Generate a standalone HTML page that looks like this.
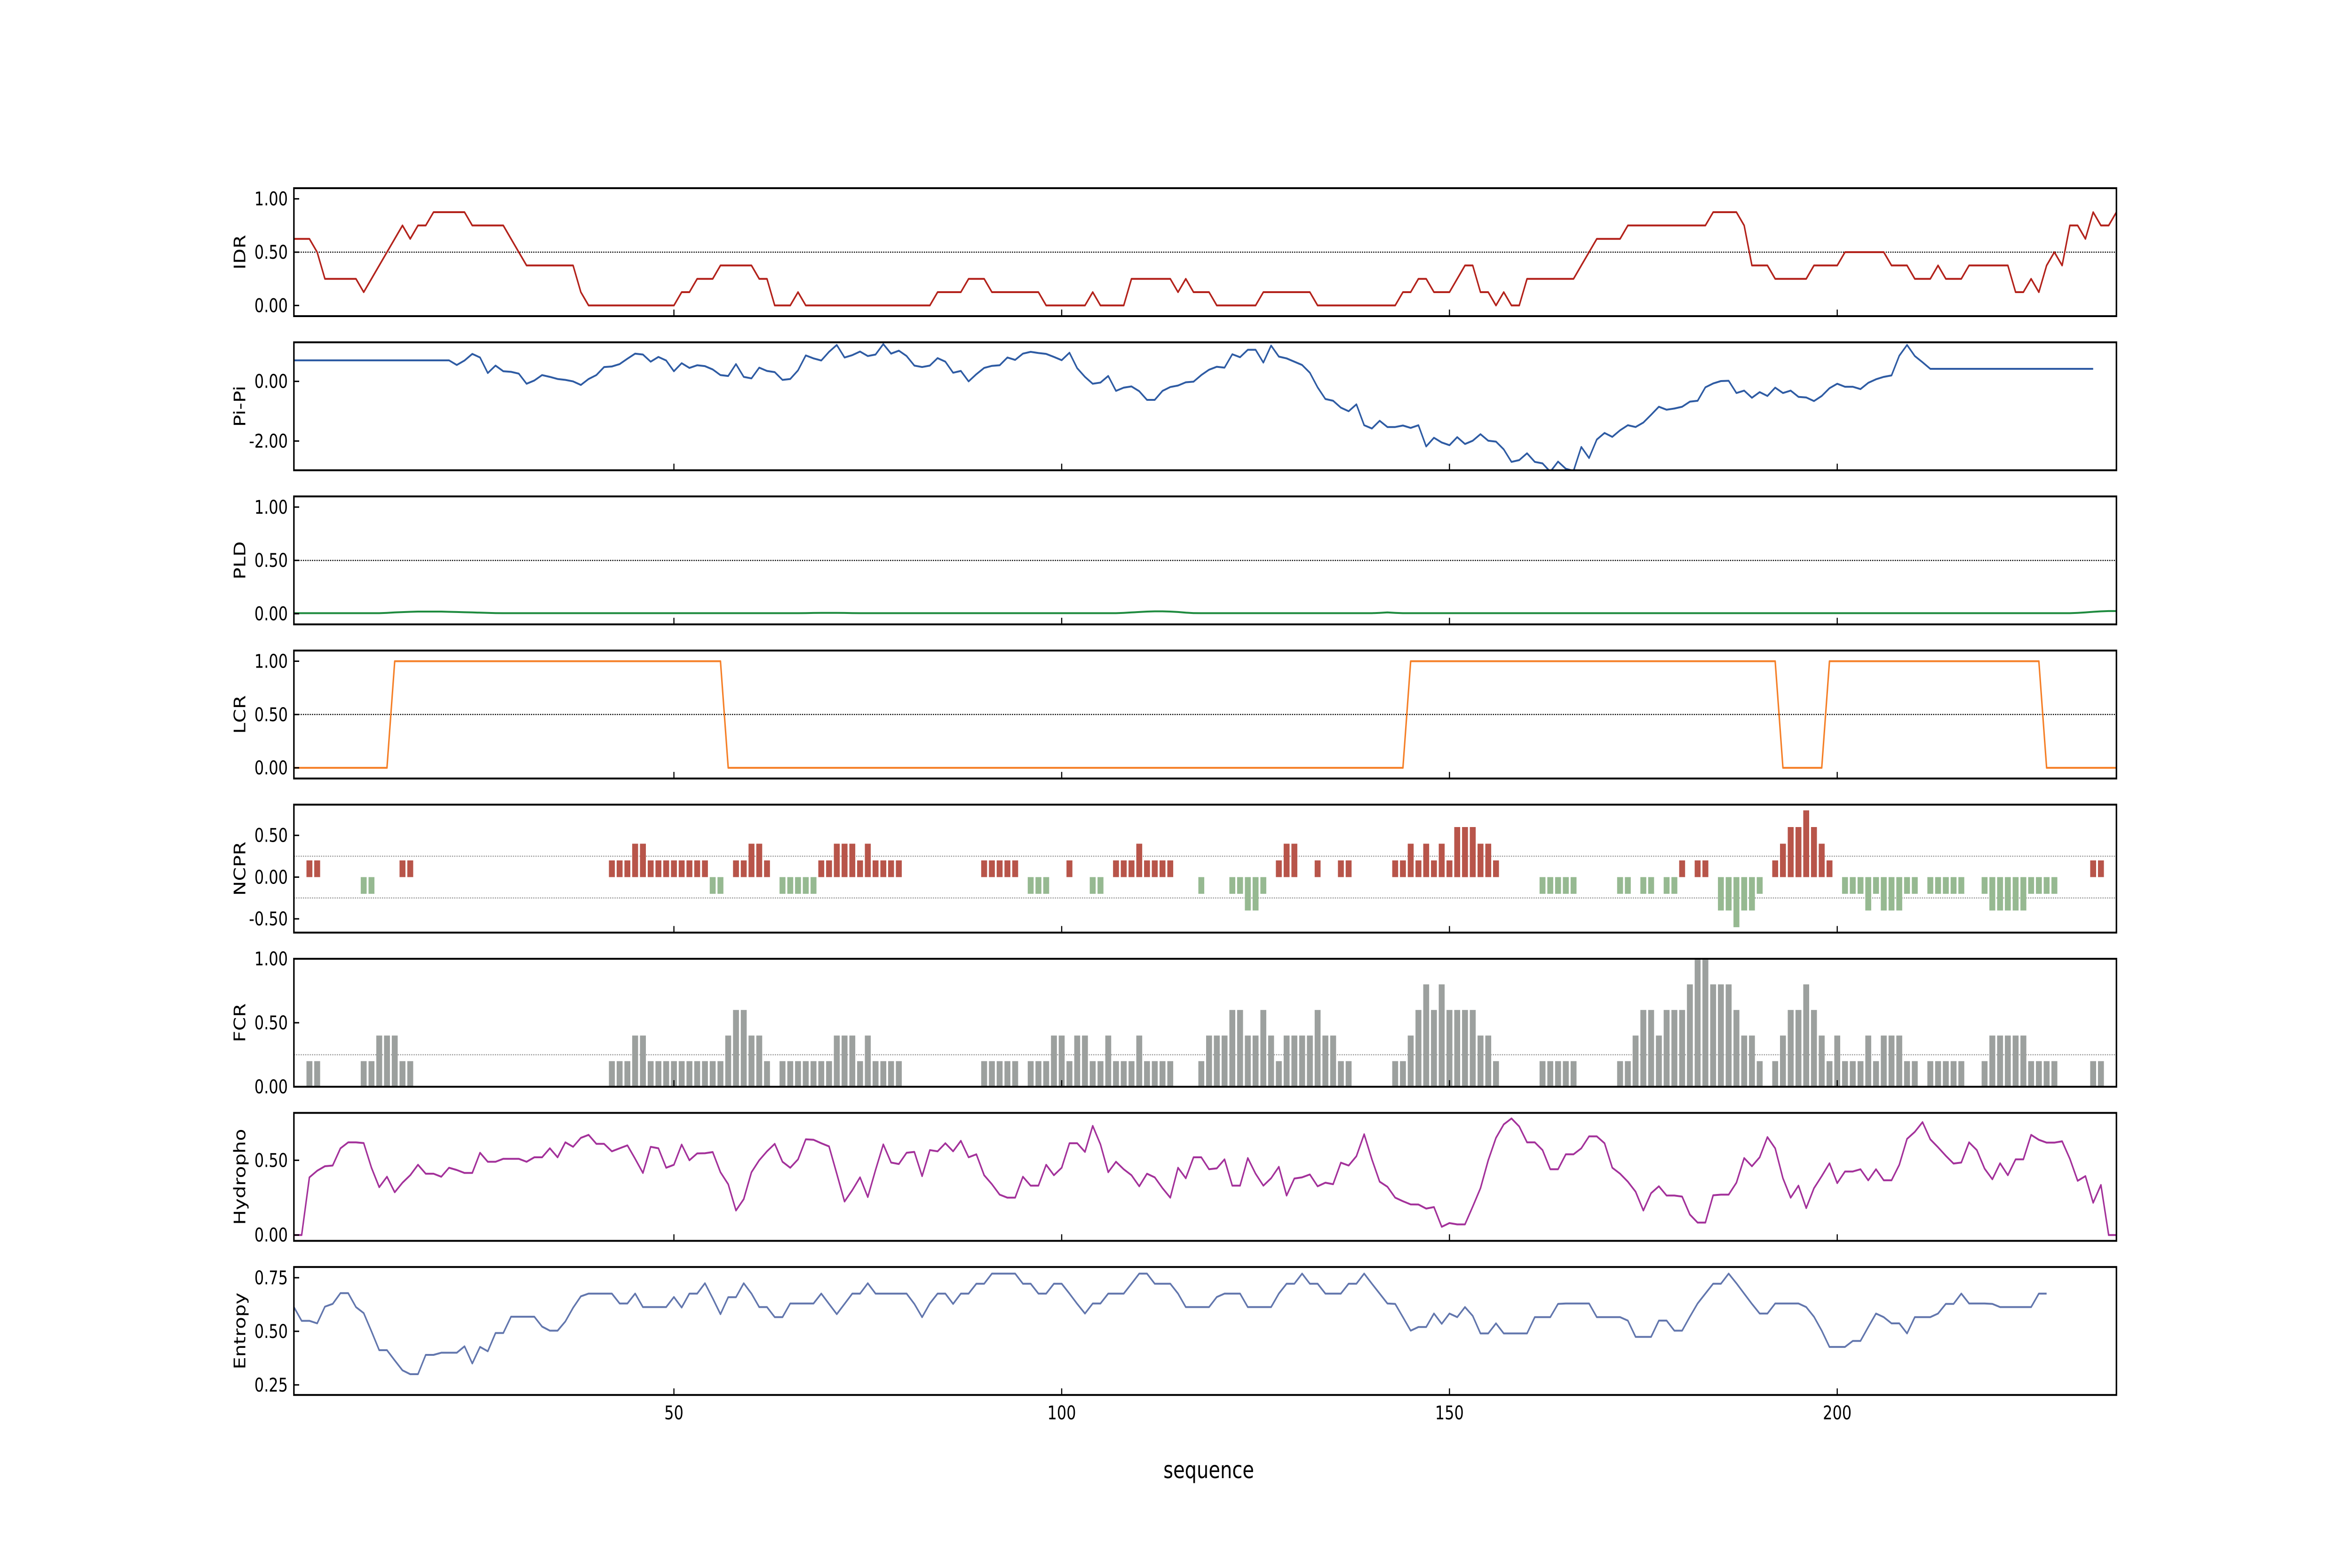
<!DOCTYPE html>
<html><head><meta charset="utf-8"><title>Sequence feature tracks</title>
<style>
html,body{margin:0;padding:0;background:#fff;overflow:hidden;width:100%;height:100%;}
svg{display:block;width:100vw;height:100vh;font-family:"DejaVu Sans","Liberation Sans",sans-serif;}
</style></head>
<body>
<svg id="chart" xmlns="http://www.w3.org/2000/svg" viewBox="0 0 6250 3333" preserveAspectRatio="none">
<rect x="0" y="0" width="6250" height="3333" fill="#ffffff"/>
</svg>
<script>
// ---------- data ----------
const xTicks = [50, 100, 150, 200];
const xTickLabels = ["50", "100", "150", "200"];

const idrValues = [0.625,0.625,0.625,0.5,0.25,0.25,0.25,0.25,0.25,0.125,
0.25,0.375,0.5,0.625,0.75,0.625,0.75,0.75,0.875,0.875,
0.875,0.875,0.875,0.75,0.75,0.75,0.75,0.75,0.625,0.5,
0.375,0.375,0.375,0.375,0.375,0.375,0.375,0.125,0,0,
0,0,0,0,0,0,0,0,0,0,
0.125,0.125,0.25,0.25,0.25,0.375,0.375,0.375,0.375,0.375,
0.25,0.25,0,0,0,0.125,0,0,0,0,
0,0,0,0,0,0,0,0,0,0,
0,0,0,0.125,0.125,0.125,0.125,0.25,0.25,0.25,
0.125,0.125,0.125,0.125,0.125,0.125,0.125,0,0,0,
0,0,0,0.125,0,0,0,0,0.25,0.25,
0.25,0.25,0.25,0.25,0.125,0.25,0.125,0.125,0.125,0,
0,0,0,0,0,0.125,0.125,0.125,0.125,0.125,
0.125,0.125,0,0,0,0,0,0,0,0,
0,0,0,0.125,0.125,0.25,0.25,0.125,0.125,0.125,
0.25,0.375,0.375,0.125,0.125,0,0.125,0,0,0.25,
0.25,0.25,0.25,0.25,0.25,0.25,0.375,0.5,0.625,0.625,
0.625,0.625,0.75,0.75,0.75,0.75,0.75,0.75,0.75,0.75,
0.75,0.75,0.75,0.875,0.875,0.875,0.875,0.75,0.375,0.375,
0.375,0.25,0.25,0.25,0.25,0.25,0.375,0.375,0.375,0.375,
0.5,0.5,0.5,0.5,0.5,0.5,0.375,0.375,0.375,0.25,
0.25,0.25,0.375,0.25,0.25,0.25,0.375,0.375,0.375,0.375,
0.375,0.375,0.125,0.125,0.25,0.125,0.375,0.5,0.375,0.75,
0.75,0.625,0.875,0.75,0.75,0.875];

const piPiValues = [0.705,0.705,0.705,0.705,0.705,0.705,0.705,0.705,0.705,0.705,
0.705,0.705,0.705,0.705,0.705,0.705,0.705,0.705,0.705,0.705,
0.705,0.55,0.7,0.92,0.8,0.28,0.53,0.34,0.32,0.26,
-0.08,0.03,0.21,0.15,0.08,0.05,0,-0.12,0.08,0.21,
0.48,0.5,0.58,0.76,0.93,0.9,0.66,0.82,0.7,0.34,
0.61,0.45,0.54,0.51,0.4,0.21,0.18,0.58,0.15,0.1,
0.46,0.35,0.31,0.05,0.08,0.37,0.87,0.77,0.7,0.99,
1.22,0.8,0.88,1.0,0.85,0.9,1.25,0.93,1.03,0.85,
0.53,0.48,0.53,0.78,0.66,0.29,0.35,0,0.24,0.45,
0.52,0.54,0.8,0.72,0.93,0.99,0.95,0.92,0.82,0.71,
0.96,0.44,0.15,-0.08,-0.04,0.18,-0.32,-0.21,-0.17,-0.33,
-0.62,-0.62,-0.32,-0.19,-0.14,-0.03,-0.01,0.21,0.39,0.49,
0.46,0.91,0.81,1.06,1.06,0.63,1.2,0.83,0.77,0.66,
0.55,0.29,-0.2,-0.59,-0.65,-0.88,-1.0,-0.77,-1.47,-1.58,
-1.32,-1.53,-1.53,-1.48,-1.56,-1.47,-2.18,-1.89,-2.05,-2.14,
-1.87,-2.1,-1.99,-1.77,-1.99,-2.02,-2.28,-2.7,-2.64,-2.41,
-2.7,-2.75,-3.03,-2.69,-2.93,-3.0,-2.2,-2.57,-1.95,-1.73,
-1.86,-1.64,-1.47,-1.53,-1.38,-1.12,-0.85,-0.95,-0.91,-0.85,
-0.68,-0.65,-0.2,-0.07,0.01,0.02,-0.39,-0.31,-0.55,-0.36,
-0.49,-0.21,-0.39,-0.31,-0.52,-0.54,-0.66,-0.49,-0.23,-0.08,
-0.18,-0.18,-0.26,-0.05,0.07,0.15,0.2,0.86,1.22,0.85,
0.64,0.42,0.42,0.42,0.42,0.42,0.42,0.42,0.42,0.42,
0.42,0.42,0.42,0.42,0.42,0.42,0.42,0.42,0.42,0.42,
0.42,0.42,0.42];

const pldValues = [0.005,0.005,0.005,0.005,0.005,0.005,0.005,0.005,0.005,0.005,
0.005,0.005,0.008,0.012,0.015,0.018,0.02,0.02,0.02,0.02,
0.018,0.016,0.014,0.012,0.01,0.008,0.006,0.005,0.005,0.005,
0.005,0.005,0.005,0.005,0.005,0.005,0.005,0.005,0.005,0.005,
0.005,0.005,0.005,0.005,0.005,0.005,0.005,0.005,0.005,0.005,
0.005,0.005,0.005,0.005,0.005,0.005,0.005,0.005,0.005,0.005,
0.005,0.005,0.005,0.005,0.005,0.005,0.006,0.007,0.008,0.008,
0.008,0.007,0.006,0.005,0.005,0.005,0.005,0.005,0.005,0.005,
0.005,0.005,0.005,0.005,0.005,0.005,0.005,0.005,0.005,0.005,
0.005,0.005,0.005,0.005,0.005,0.005,0.005,0.005,0.005,0.005,
0.005,0.005,0.005,0.005,0.005,0.005,0.005,0.008,0.012,0.016,
0.02,0.022,0.022,0.02,0.016,0.01,0.006,0.005,0.005,0.005,
0.005,0.005,0.005,0.005,0.005,0.005,0.005,0.005,0.005,0.005,
0.005,0.005,0.005,0.005,0.005,0.005,0.005,0.005,0.005,0.005,
0.008,0.012,0.008,0.005,0.005,0.005,0.005,0.005,0.005,0.005,
0.005,0.005,0.005,0.005,0.005,0.005,0.005,0.005,0.005,0.005,
0.005,0.005,0.005,0.005,0.005,0.005,0.005,0.005,0.005,0.005,
0.005,0.005,0.005,0.005,0.005,0.005,0.005,0.005,0.005,0.005,
0.005,0.005,0.005,0.005,0.005,0.005,0.005,0.005,0.005,0.005,
0.005,0.005,0.005,0.005,0.005,0.005,0.005,0.005,0.005,0.005,
0.005,0.005,0.005,0.005,0.005,0.005,0.005,0.005,0.005,0.005,
0.005,0.005,0.005,0.005,0.005,0.005,0.005,0.005,0.005,0.005,
0.005,0.005,0.005,0.005,0.005,0.005,0.005,0.005,0.005,0.005,
0.008,0.012,0.018,0.022,0.025,0.025];

const lcrValues = [0,0,0,0,0,0,0,0,0,0,0,0,0,1,1,1,1,1,1,1,
1,1,1,1,1,1,1,1,1,1,1,1,1,1,1,1,1,1,1,1,
1,1,1,1,1,1,1,1,1,1,1,1,1,1,1,1,0,0,0,0,
0,0,0,0,0,0,0,0,0,0,0,0,0,0,0,0,0,0,0,0,
0,0,0,0,0,0,0,0,0,0,0,0,0,0,0,0,0,0,0,0,
0,0,0,0,0,0,0,0,0,0,0,0,0,0,0,0,0,0,0,0,
0,0,0,0,0,0,0,0,0,0,0,0,0,0,0,0,0,0,0,0,
0,0,0,0,1,1,1,1,1,1,1,1,1,1,1,1,1,1,1,1,
1,1,1,1,1,1,1,1,1,1,1,1,1,1,1,1,1,1,1,1,
1,1,1,1,1,1,1,1,1,1,1,1,0,0,0,0,0,0,1,1,
1,1,1,1,1,1,1,1,1,1,1,1,1,1,1,1,1,1,1,1,
1,1,1,1,1,1,0,0,0,0,0,0,0,0,0,0];

const ncprPositions = [3,4,10,11,15,16,
42,43,44,45,46,47,48,49,50,51,52,53,54,55,56,58,59,60,61,62,64,65,66,67,68,69,70,71,72,73,74,75,76,77,78,79,
90,91,92,93,94,96,97,98,101,104,105,107,108,109,110,111,112,113,114,118,122,123,124,125,126,128,129,130,133,136,137,
143,144,145,146,147,148,149,150,151,152,153,154,155,156,
162,163,164,165,166,172,173,175,176,178,179,180,182,183,185,186,187,188,189,190,192,193,194,195,196,197,198,199,
201,202,203,204,205,206,207,208,209,210,212,213,214,215,216,219,220,221,222,223,224,225,226,227,228,233,234];
const ncprValues = [0.2,0.2,-0.2,-0.2,0.2,0.2,
0.2,0.2,0.2,0.4,0.4,0.2,0.2,0.2,0.2,0.2,0.2,0.2,0.2,-0.2,-0.2,0.2,0.2,0.4,0.4,0.2,-0.2,-0.2,-0.2,-0.2,-0.2,0.2,0.2,0.4,0.4,0.4,0.2,0.4,0.2,0.2,0.2,0.2,
0.2,0.2,0.2,0.2,0.2,-0.2,-0.2,-0.2,0.2,-0.2,-0.2,0.2,0.2,0.2,0.4,0.2,0.2,0.2,0.2,-0.2,-0.2,-0.2,-0.4,-0.4,-0.2,0.2,0.4,0.4,0.2,0.2,0.2,
0.2,0.2,0.4,0.2,0.4,0.2,0.4,0.2,0.6,0.6,0.6,0.4,0.4,0.2,
-0.2,-0.2,-0.2,-0.2,-0.2,-0.2,-0.2,-0.2,-0.2,-0.2,-0.2,0.2,0.2,0.2,-0.4,-0.4,-0.6,-0.4,-0.4,-0.2,0.2,0.4,0.6,0.6,0.8,0.6,0.4,0.2,
-0.2,-0.2,-0.2,-0.4,-0.2,-0.4,-0.4,-0.4,-0.2,-0.2,-0.2,-0.2,-0.2,-0.2,-0.2,-0.2,-0.4,-0.4,-0.4,-0.4,-0.4,-0.2,-0.2,-0.2,-0.2,0.2,0.2];

const fcrPositions = [3,4,10,11,12,13,14,15,16,
42,43,44,45,46,47,48,49,50,51,52,53,54,55,56,57,58,59,60,61,62,64,65,66,67,68,69,70,71,72,73,74,75,76,77,78,79,
90,91,92,93,94,96,97,98,99,100,101,102,103,104,105,106,107,108,109,110,111,112,113,114,
118,119,120,121,122,123,124,125,126,127,128,129,130,131,132,133,134,135,136,137,
143,144,145,146,147,148,149,150,151,152,153,154,155,156,
162,163,164,165,166,172,173,174,175,176,177,178,179,180,181,182,183,184,185,186,187,188,189,190,
192,193,194,195,196,197,198,199,200,201,202,203,204,205,206,207,208,209,210,
212,213,214,215,216,219,220,221,222,223,224,225,226,227,228,233,234];
const fcrValues = [0.2,0.2,0.2,0.2,0.4,0.4,0.4,0.2,0.2,
0.2,0.2,0.2,0.4,0.4,0.2,0.2,0.2,0.2,0.2,0.2,0.2,0.2,0.2,0.2,0.4,0.6,0.6,0.4,0.4,0.2,0.2,0.2,0.2,0.2,0.2,0.2,0.2,0.4,0.4,0.4,0.2,0.4,0.2,0.2,0.2,0.2,
0.2,0.2,0.2,0.2,0.2,0.2,0.2,0.2,0.4,0.4,0.2,0.4,0.4,0.2,0.2,0.4,0.2,0.2,0.2,0.4,0.2,0.2,0.2,0.2,
0.2,0.4,0.4,0.4,0.6,0.6,0.4,0.4,0.6,0.4,0.2,0.4,0.4,0.4,0.4,0.6,0.4,0.4,0.2,0.2,
0.2,0.2,0.4,0.6,0.8,0.6,0.8,0.6,0.6,0.6,0.6,0.4,0.4,0.2,
0.2,0.2,0.2,0.2,0.2,0.2,0.2,0.4,0.6,0.6,0.4,0.6,0.6,0.6,0.8,1.0,1.0,0.8,0.8,0.8,0.6,0.4,0.4,0.2,
0.2,0.4,0.6,0.6,0.8,0.6,0.4,0.2,0.4,0.2,0.2,0.2,0.4,0.2,0.4,0.4,0.4,0.2,0.2,
0.2,0.2,0.2,0.2,0.2,0.2,0.4,0.4,0.4,0.4,0.4,0.2,0.2,0.2,0.2,0.2,0.2];

const hydroValues = [0,0,0.386,0.43,0.46,0.465,0.58,0.62,0.62,0.615,
0.45,0.32,0.39,0.286,0.35,0.4,0.47,0.41,0.41,0.39,
0.45,0.435,0.415,0.415,0.55,0.49,0.49,0.51,0.51,0.51,
0.49,0.52,0.52,0.58,0.52,0.62,0.59,0.65,0.67,0.61,
0.61,0.56,0.58,0.6,0.51,0.415,0.59,0.58,0.45,0.47,
0.605,0.5,0.546,0.547,0.555,0.42,0.34,0.164,0.24,0.42,
0.5,0.56,0.61,0.49,0.45,0.506,0.64,0.637,0.614,0.593,
0.41,0.224,0.3,0.386,0.254,0.435,0.606,0.485,0.475,0.55,
0.556,0.394,0.568,0.56,0.614,0.56,0.63,0.52,0.54,0.4,
0.34,0.27,0.25,0.25,0.39,0.33,0.33,0.47,0.4,0.45,
0.614,0.614,0.556,0.73,0.606,0.42,0.49,0.44,0.4,0.326,
0.41,0.386,0.313,0.25,0.45,0.38,0.52,0.52,0.44,0.446,
0.506,0.33,0.33,0.515,0.41,0.33,0.38,0.456,0.264,0.378,
0.386,0.405,0.326,0.35,0.34,0.484,0.465,0.527,0.674,0.506,
0.357,0.323,0.25,0.226,0.205,0.204,0.177,0.187,0.055,0.08,
0.071,0.071,0.19,0.313,0.5,0.65,0.74,0.78,0.726,0.62,
0.62,0.568,0.44,0.44,0.54,0.54,0.58,0.66,0.66,0.614,
0.45,0.41,0.357,0.29,0.164,0.28,0.326,0.264,0.264,0.257,
0.137,0.083,0.083,0.266,0.27,0.27,0.35,0.515,0.46,0.52,
0.655,0.58,0.38,0.25,0.33,0.18,0.313,0.394,0.48,0.347,
0.425,0.425,0.44,0.366,0.44,0.366,0.366,0.47,0.643,0.69,
0.755,0.64,0.587,0.53,0.478,0.485,0.62,0.568,0.444,0.373,
0.48,0.4,0.506,0.506,0.67,0.637,0.618,0.618,0.627,0.51,
0.363,0.394,0.216,0.335,0,0];

const entropyValues = [0.613,0.549,0.549,0.537,0.615,0.628,0.678,0.678,0.613,0.585,
0.5,0.412,0.412,0.364,0.318,0.3,0.3,0.39,0.39,0.4,
0.4,0.4,0.43,0.35,0.427,0.407,0.492,0.492,0.568,0.568,
0.568,0.568,0.522,0.503,0.503,0.546,0.61,0.663,0.676,0.676,
0.676,0.676,0.63,0.63,0.676,0.613,0.613,0.613,0.613,0.66,
0.611,0.676,0.676,0.724,0.654,0.58,0.659,0.659,0.724,0.676,
0.613,0.613,0.566,0.566,0.63,0.63,0.63,0.63,0.676,0.628,
0.58,0.628,0.676,0.676,0.724,0.676,0.676,0.676,0.676,0.676,
0.628,0.566,0.63,0.676,0.676,0.628,0.676,0.676,0.722,0.722,
0.769,0.769,0.769,0.769,0.722,0.722,0.676,0.676,0.722,0.722,
0.676,0.628,0.583,0.63,0.63,0.676,0.676,0.676,0.722,0.769,
0.769,0.722,0.722,0.722,0.676,0.613,0.613,0.613,0.613,0.66,
0.676,0.676,0.676,0.613,0.613,0.613,0.613,0.676,0.722,0.722,
0.769,0.722,0.722,0.676,0.676,0.676,0.722,0.722,0.769,0.722,
0.676,0.63,0.628,0.566,0.503,0.52,0.52,0.583,0.535,0.583,
0.566,0.613,0.572,0.49,0.49,0.537,0.49,0.49,0.49,0.49,
0.566,0.566,0.566,0.628,0.63,0.63,0.63,0.63,0.566,0.566,
0.566,0.566,0.55,0.474,0.474,0.474,0.55,0.55,0.503,0.503,
0.568,0.63,0.676,0.722,0.722,0.769,0.724,0.676,0.628,0.583,
0.583,0.63,0.63,0.63,0.63,0.613,0.568,0.503,0.427,0.427,
0.427,0.455,0.455,0.52,0.583,0.566,0.537,0.537,0.49,0.566,
0.566,0.566,0.583,0.628,0.628,0.676,0.63,0.63,0.63,0.628,
0.613,0.613,0.613,0.613,0.613,0.676,0.676];

// ---------- layout ----------
const SVGNS = "http://www.w3.org/2000/svg";
const svg = document.getElementById("chart");
const PLOT_L = 781, PLOT_R = 5624;
const X_MIN = 1, X_MAX = 236;
const PANEL_TOP0 = 400, PANEL_PITCH = 327.6, PANEL_H = 272;
function xScale(v){ return PLOT_L + (v - X_MIN) / (X_MAX - X_MIN) * (PLOT_R - PLOT_L); }
function panelTop(k){ return PANEL_TOP0 + k * PANEL_PITCH; }
function yScaleFor(k, ylim){
  const top = panelTop(k);
  return function(v){ return top + (ylim[1] - v) / (ylim[1] - ylim[0]) * PANEL_H; };
}
function mk(tag, attrs){
  const el = document.createElementNS(SVGNS, tag);
  for (const a in attrs) el.setAttribute(a, attrs[a]);
  return el;
}

const panels = [
  {key:"idr", label:"IDR", ylim:[-0.1,1.1], ticks:[0,0.5,1], tickLabels:["0.00","0.50","1.00"], ref:[0.5], refColor:"#000"},
  {key:"pi-pi", label:"Pi-Pi", ylim:[-2.98,1.31], ticks:[0,-2], tickLabels:["0.00","-2.00"], ref:[], refColor:"#000"},
  {key:"pld", label:"PLD", ylim:[-0.1,1.1], ticks:[0,0.5,1], tickLabels:["0.00","0.50","1.00"], ref:[0.5], refColor:"#000"},
  {key:"lcr", label:"LCR", ylim:[-0.1,1.1], ticks:[0,0.5,1], tickLabels:["0.00","0.50","1.00"], ref:[0.5], refColor:"#000"},
  {key:"ncpr", label:"NCPR", ylim:[-0.665,0.868], ticks:[-0.5,0,0.5], tickLabels:["-0.50","0.00","0.50"], ref:[0.25,-0.25], refColor:"#999"},
  {key:"fcr", label:"FCR", ylim:[0,1], ticks:[0,0.5,1], tickLabels:["0.00","0.50","1.00"], ref:[0.25], refColor:"#999"},
  {key:"hydropathy", label:"Hydropho", ylim:[-0.039,0.817], ticks:[0,0.5], tickLabels:["0.00","0.50"], ref:[], refColor:"#000"},
  {key:"entropy", label:"Entropy", ylim:[0.203,0.80], ticks:[0.25,0.5,0.75], tickLabels:["0.25","0.50","0.75"], ref:[], refColor:"#000"}
];

const defs = mk("defs", {});
svg.appendChild(defs);

function drawLine(g, k, ylim, values, color){
  const ys = yScaleFor(k, ylim);
  let d = "";
  values.forEach(function(v, i){
    d += (i === 0 ? "M" : "L") + xScale(i + 1).toFixed(1) + "," + ys(v).toFixed(1);
  });
  const p = mk("path", {d:d, fill:"none", stroke:color, "stroke-width":4, "stroke-linejoin":"round", "clip-path":"url(#clip-" + k + ")"});
  
  
  g.appendChild(p);
}
function drawBars(g, k, ylim, positions, values, posColor, negColor){
  const ys = yScaleFor(k, ylim);
  const bw = 0.76 * (PLOT_R - PLOT_L) / (X_MAX - X_MIN);
  positions.forEach(function(pos, i){
    const v = values[i];
    const y0 = ys(0), y1 = ys(v);
    const r = mk("rect", {x:(xScale(pos) - bw/2).toFixed(1), y:Math.min(y0,y1).toFixed(1), width:bw.toFixed(1), height:Math.abs(y1-y0).toFixed(1), fill: v >= 0 ? posColor : negColor});
    
    
    g.appendChild(r);
  });
}

panels.forEach(function(p, k){
  const top = panelTop(k);
  const ys = yScaleFor(k, p.ylim);
  const g = mk("g", {});
  
  
  svg.appendChild(g);

  const cp = mk("clipPath", {id:"clip-" + k});
  cp.appendChild(mk("rect", {x:PLOT_L, y:top, width:PLOT_R - PLOT_L, height:PANEL_H}));
  defs.appendChild(cp);

  p.ref.forEach(function(rv){
    const l = mk("line", {x1:PLOT_L, x2:PLOT_R, y1:ys(rv), y2:ys(rv), stroke:p.refColor, "stroke-width":2.5, "stroke-dasharray":"3,3"});
    
    
    g.appendChild(l);
  });

  if (p.key === "idr") drawLine(g, k, p.ylim, idrValues, "#b3221b");
  if (p.key === "pi-pi") drawLine(g, k, p.ylim, piPiValues, "#2e5ba3");
  if (p.key === "pld") drawLine(g, k, p.ylim, pldValues, "#1f8b3f");
  if (p.key === "lcr") drawLine(g, k, p.ylim, lcrValues, "#f57f27");
  if (p.key === "ncpr") drawBars(g, k, p.ylim, ncprPositions, ncprValues, "#b8554a", "#96b991");
  if (p.key === "fcr") drawBars(g, k, p.ylim, fcrPositions, fcrValues, "#9ca09e", "#9ca09e");
  if (p.key === "hydropathy") drawLine(g, k, p.ylim, hydroValues, "#a3319a");
  if (p.key === "entropy") drawLine(g, k, p.ylim, entropyValues, "#6276ad");

  const fr = mk("rect", {x:PLOT_L, y:top, width:PLOT_R - PLOT_L, height:PANEL_H, fill:"none", stroke:"#000", "stroke-width":4});
  
  
  g.appendChild(fr);

  p.ticks.forEach(function(tv, ti){
    const y = ys(tv);
    const t = mk("line", {x1:PLOT_L, x2:PLOT_L + 14, y1:y, y2:y, stroke:"#000", "stroke-width":3});
    
    
    g.appendChild(t);
    const tx = mk("text", {x:PLOT_L - 16, y:y + 14, "text-anchor":"end", "font-size":40, fill:"#000"});
    tx.textContent = p.tickLabels[ti];
    
    
    g.appendChild(tx);
  });

  xTicks.forEach(function(xv){
    const x = xScale(xv);
    const t = mk("line", {x1:x, x2:x, y1:top + PANEL_H, y2:top + PANEL_H - 14, stroke:"#000", "stroke-width":3});
    
    
    g.appendChild(t);
  });

  const cy = top + PANEL_H / 2;
  const yl = mk("text", {x:652, y:cy, "text-anchor":"middle", "font-size":42, fill:"#000", transform:"rotate(-90 652 " + cy + ")"});
  yl.textContent = p.label;
  
  
  g.appendChild(yl);
});

const bottom = panelTop(panels.length - 1) + PANEL_H;
xTicks.forEach(function(xv, i){
  const t = mk("text", {x:xScale(xv), y:bottom + 52, "text-anchor":"middle", "font-size":40, fill:"#000"});
  t.textContent = xTickLabels[i];
  
  
  svg.appendChild(t);
});
const xt = mk("text", {x:3212, y:3142, "text-anchor":"middle", "font-size":50, fill:"#000"});
xt.textContent = "sequence";


svg.appendChild(xt);
</script>
</body></html>
